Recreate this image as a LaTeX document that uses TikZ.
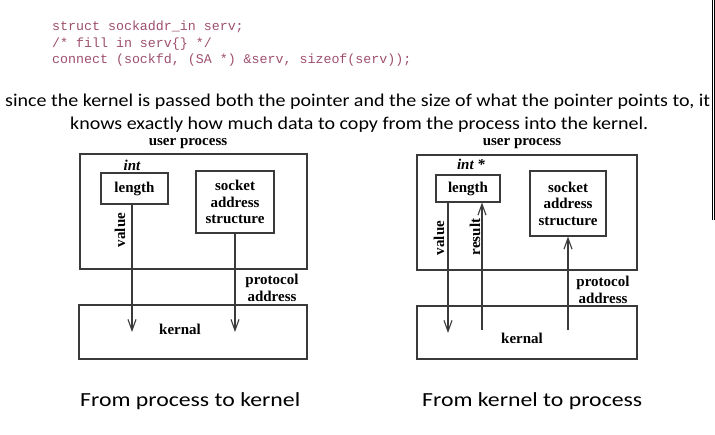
\documentclass[tikz,border=0pt]{standalone}
\usepackage{fontspec}
\setmainfont{Liberation Serif}
\newfontfamily\calib{Carlito}
\newfontfamily\codefont{Liberation Mono}
\usetikzlibrary{arrows.meta}
\definecolor{codecol}{HTML}{9E4F6E}
\definecolor{linecol}{HTML}{3A3A3A}
\tikzset{
  boxline/.style={draw=linecol, line width=1.1pt},
  arr/.style={draw=linecol, line width=1.1pt, -{Straight Barb[length=11pt,width=8pt,line width=1.1pt]}},
  lbl/.style={font=\fontsize{15}{16.5}\selectfont\bfseries, inner sep=0pt},
  ilbl/.style={font=\fontsize{15}{16.5}\selectfont\bfseries\itshape, inner sep=0pt},
  codeline/.style={font=\fontsize{13.3}{15}\codefont, text=codecol, anchor=base west, inner sep=0pt},
  bodyline/.style={font=\fontsize{18}{22}\calib, anchor=base west, inner sep=0pt},
  capline/.style={font=\fontsize{20}{24}\calib, anchor=base west, inner sep=0pt},
}
\begin{document}
\begin{tikzpicture}[x=1pt,y=-1pt]
\useasboundingbox (0,0) rectangle (715,435);
% code
\node[codeline] (c1) at (52,31) {struct sockaddr\_in serv;};
\node[codeline] (c2) at (52,48) {/* fill in serv\{\} */};
\node[codeline] (c3) at (52,64) {connect (sockfd, (SA *) \&serv, sizeof(serv));};
% explanatory text
\node[bodyline] (t1) at (5,107) {\resizebox{705pt}{\height}{since the kernel is passed both the pointer and the size of what the pointer points to, it}};
\node[bodyline] (t2) at (70,130) {\resizebox{578pt}{\height}{knows exactly how much data to copy from the process into the kernel.}};
\draw[black, line width=0.9pt] (712,0) -- (712,220) (714.6,0) -- (714.6,220);

% ---------- left diagram ----------
\draw[boxline] (80,154) rectangle (307,269);
\node[lbl] (uL) at (188,144) {user process};
\node[ilbl] (iL) at (132,165) {int};
\node[boxline, minimum width=67pt, minimum height=31pt, lbl] (lenL) at (134.5,188.5) {length};
\node[boxline, minimum width=78pt, minimum height=62pt, lbl, align=center] (sockL) at (235,202) {socket\\address\\structure};
\node[lbl, rotate=90] (vL) at (120,230) {value};
\draw[boxline] (79,305) rectangle (307,359);
\node[lbl] (kL) at (180,329) {kernal};
\node[lbl, align=center] (pL) at (272,288) {protocol\\address};
\coordinate (aL1) at (132,332);
\coordinate (aL2) at (235,332);
\draw[arr] (lenL.south -| aL1) -- (aL1);
\draw[arr] (sockL.south) -- (aL2);

% ---------- right diagram ----------
\draw[boxline] (417,155) rectangle (637,270);
\node[lbl] (uR) at (522,144) {user process};
\node[ilbl] (iR) at (471,164) {int *};
\node[boxline, minimum width=64pt, minimum height=27pt, lbl] (lenR) at (468,188.5) {length};
\node[boxline, minimum width=76pt, minimum height=65pt, lbl, align=center] (sockR) at (568,203.5) {socket\\address\\structure};
\node[lbl, rotate=90] (vR) at (439,238) {value};
\node[lbl, rotate=90] (rR) at (475,237) {result};
\draw[boxline] (417,306) rectangle (637,359);
\node[lbl] (kR) at (522,338) {kernal};
\node[lbl, align=center] (pR) at (603,290) {protocol\\address};
\coordinate (aR1) at (448,333);
\coordinate (aR2) at (482,330);
\coordinate (aR3) at (568,330);
\draw[arr] (lenR.south -| aR1) -- (aR1);
\draw[arr] (aR2) -- (lenR.south -| aR2);
\draw[arr] (aR3) -- (sockR.south);

% captions
\node[capline] (capL) at (80,407) {\resizebox{220pt}{\height}{From process to kernel}};
\node[capline] (capR) at (422,407) {\resizebox{220pt}{\height}{From kernel to process}};
\end{tikzpicture}
\end{document}
